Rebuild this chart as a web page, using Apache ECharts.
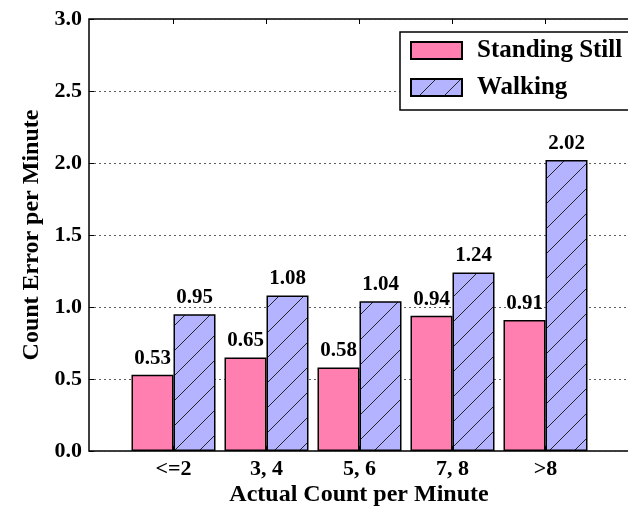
<!DOCTYPE html>
<html>
<head>
<meta charset="utf-8">
<script src="https://cdn.jsdelivr.net/npm/echarts@6/dist/echarts.min.js"></script>
<style>
html,body{margin:0;padding:0;background:#fff;}
#chart{width:628px;height:509px;}
</style>
</head>
<body>
<div id="chart"></div>
<script>
const categories = ['<=2', '3, 4', '5, 6', '7, 8', '>8'];
const standingStill = [0.53, 0.65, 0.58, 0.94, 0.91];
const walking = [0.95, 1.08, 1.04, 1.24, 2.02];
const seriesNames = ['Standing Still', 'Walking'];
const yTicks = [0.0, 0.5, 1.0, 1.5, 2.0, 2.5, 3.0];

const FONT = '"Liberation Serif", "Times New Roman", serif';

function hatch(bg) {
  const s = 25;
  const c = document.createElement('canvas');
  c.width = s; c.height = s;
  const g = c.getContext('2d');
  g.fillStyle = bg;
  g.fillRect(0, 0, s, s);
  g.strokeStyle = '#222';
  g.lineWidth = 1;
  g.beginPath();
  g.moveTo(-2, s + 2); g.lineTo(s + 2, -2);
  g.moveTo(-2, 2); g.lineTo(2, -2);
  g.moveTo(s - 2, s + 2); g.lineTo(s + 2, s - 2);
  g.stroke();
  return c;
}

const chart = echarts.init(document.getElementById('chart'), null, {renderer: 'canvas'});
const labelStyle = {
  show: true, position: 'top', distance: 6,
  fontFamily: FONT, fontWeight: 'bold', fontSize: 21, color: '#000',
  formatter: p => p.value.toFixed(2)
};

chart.setOption({
  animation: false,
  backgroundColor: '#fff',
  textStyle: {fontFamily: FONT},
  grid: [
    {left: 89, right: -1, top: 19, bottom: 58, show: true, borderColor: '#000', borderWidth: 1.5,
     backgroundColor: 'transparent', containLabel: false, outerBoundsMode: 'none'},
    {left: 127, width: 465, top: 19, bottom: 58, containLabel: false, outerBoundsMode: 'none'}
  ],
  graphic: [
    {type: 'rect', z: 50, silent: true,
     shape: {x: 400, y: 32, width: 260, height: 78},
     style: {fill: '#fff', stroke: '#000', lineWidth: 1.5}}
  ],
  xAxis: [
    {gridIndex: 0, type: 'category', data: [''], axisLine: {show: false}, axisTick: {show: false}, axisLabel: {show: false},
     name: 'Actual Count per Minute', nameLocation: 'middle', nameGap: 32,
     nameTextStyle: {fontFamily: FONT, fontWeight: 'bold', fontSize: 24, color: '#000'}},
    {gridIndex: 1, type: 'category', data: categories, position: 'bottom',
     axisLine: {show: false}, axisTick: {show: true, inside: true, alignWithLabel: true, length: 5, lineStyle: {color: '#000'}},
     axisLabel: {fontFamily: FONT, fontWeight: 'bold', fontSize: 22, color: '#000', margin: 7}},
    {gridIndex: 1, type: 'category', data: categories, position: 'top',
     axisLine: {show: false}, axisTick: {show: true, inside: true, alignWithLabel: true, length: 5, lineStyle: {color: '#000'}},
     axisLabel: {show: false}}
  ],
  yAxis: [
    {gridIndex: 0, type: 'value', min: 0, max: 3, interval: 0.5,
     axisLine: {show: false}, axisTick: {show: true, inside: true, length: 5, lineStyle: {color: '#000'}},
     axisLabel: {fontFamily: FONT, fontWeight: 'bold', fontSize: 22, color: '#000', margin: 7,
       formatter: v => v.toFixed(1)},
     splitLine: {show: true, lineStyle: {color: '#333', width: 0.8, type: [2, 3]}},
     name: 'Count Error per Minute', nameLocation: 'middle', nameGap: 40, nameRotate: 90,
     nameTextStyle: {fontFamily: FONT, fontWeight: 'bold', fontSize: 24, color: '#000'}},
    {gridIndex: 1, type: 'value', min: 0, max: 3, interval: 0.5, show: false, splitLine: {show: false}}
  ],
  legend: {
    orient: 'vertical', left: 401, top: 33,
    padding: [5, 0, 0, 9], itemGap: 12, itemWidth: 51, itemHeight: 17, icon: 'rect',
    textStyle: {fontFamily: FONT, fontWeight: 'bold', fontSize: 25, color: '#000', padding: [0, 0, 0, 10]},
    data: seriesNames,
    z: 60
  },
  series: [
    {name: seriesNames[0], type: 'bar', xAxisIndex: 1, yAxisIndex: 1, data: standingStill,
     barWidth: 42, barGap: '0%',
     itemStyle: {color: '#ff80b0', borderColor: '#000', borderWidth: 1.5},
     label: labelStyle},
    {name: seriesNames[1], type: 'bar', xAxisIndex: 1, yAxisIndex: 1, data: walking,
     barWidth: 42, barGap: '0%',
     itemStyle: {color: {image: hatch('#b3b3ff'), repeat: 'repeat'}, borderColor: '#000', borderWidth: 1.5},
     label: labelStyle}
  ]
});
</script>
</body>
</html>
